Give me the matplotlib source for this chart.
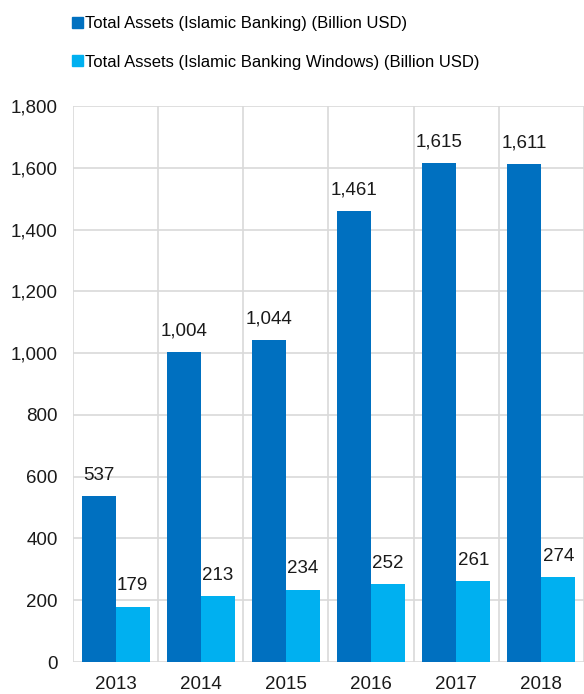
import numpy as np
import matplotlib.pyplot as plt
from matplotlib.patches import Patch
from matplotlib.ticker import FuncFormatter

plt.rcParams['font.family'] = ['Liberation Sans', 'DejaVu Sans']

years = ['2013', '2014', '2015', '2016', '2017', '2018']
banking = [537, 1004, 1044, 1461, 1615, 1611]
windows = [179, 213, 234, 252, 261, 274]
labels = ['Total Assets (Islamic Banking) (Billion USD)',
          'Total Assets (Islamic Banking Windows) (Billion USD)']
colors = ['#0070C0', '#00B0F0']

fig = plt.figure(figsize=(5.84, 6.94), dpi=100)
ax = fig.add_axes([0.125, 0.0461, 0.875, 0.801])

x = np.arange(len(years))
w = 0.4
b1 = ax.bar(x - w / 2, banking, w, color=colors[0], zorder=3)
b2 = ax.bar(x + w / 2, windows, w, color=colors[1], zorder=3)

# value labels above each bar
for bars, vals in [(b1, banking), (b2, windows)]:
    for r, v in zip(bars, vals):
        ax.annotate(f'{v:,}', (r.get_x() + r.get_width() / 2, v),
                    xytext=(0, 9), textcoords='offset points',
                    ha='center', va='bottom', fontsize=13.5, color='#1a1a1a')

ax.set_xlim(-0.5, 5.44)
ax.set_ylim(0, 1800)
ax.set_yticks(range(0, 1801, 200))
ax.yaxis.set_major_formatter(FuncFormatter(lambda v, p: f'{int(v):,}'))
ax.set_xticks(x)
ax.set_xticklabels(years)
ax.set_xticks(np.arange(-0.5, 6, 1), minor=True)
ax.tick_params(which='both', length=0, labelsize=13.5, colors='#1a1a1a')
ax.tick_params(axis='x', pad=10)
ax.tick_params(axis='y', pad=11)
ax.grid(axis='y', color='#d9d9d9', linewidth=1.2, zorder=0)
ax.grid(axis='x', which='minor', color='#d9d9d9', linewidth=1.2, zorder=0)
for s in ax.spines.values():
    s.set_visible(False)

handles = [Patch(color=c) for c in colors]
fig.legend(handles, labels, loc='upper left', bbox_to_anchor=(0.098, 0.998),
           frameon=False, fontsize=12, handlelength=0.65, handleheight=0.65,
           handletextpad=0.1, labelspacing=1.4)

fig.savefig('out.png', dpi=100)
